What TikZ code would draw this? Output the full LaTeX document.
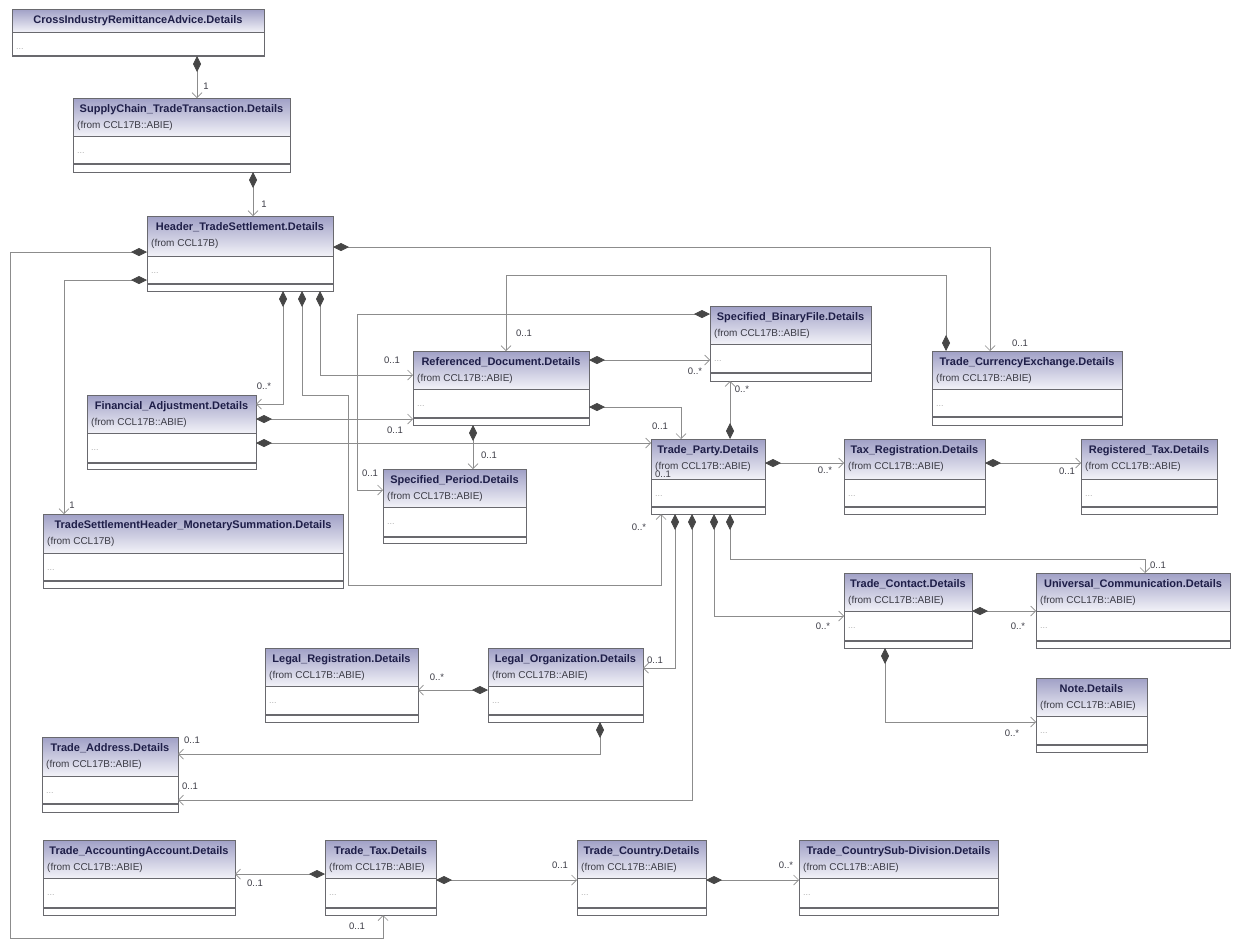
\documentclass[tikz,border=0pt]{standalone}
\usepackage{fontspec}
\setmainfont{Liberation Sans}
\usetikzlibrary{positioning}
\usetikzlibrary{arrows.meta}
\usetikzlibrary{fit}

\definecolor{hdtop}{RGB}{160,160,198}
\definecolor{hdbot}{RGB}{242,242,248}
\definecolor{boxcol}{RGB}{105,105,110}
\definecolor{lnk}{RGB}{140,140,140}
\definecolor{dmd}{RGB}{70,70,70}
\definecolor{titlecol}{RGB}{30,30,72}
\definecolor{subcol}{RGB}{60,60,70}

\newcommand{\classbox}[9]{%
  \shade[top color=hdtop, bottom color=hdbot] (#2,#3) rectangle (#4,#5);
  \draw[cline] (#2,#3) rectangle (#4,#7);
  \draw[cline] (#2,#5) -- (#4,#5);
  \draw[cline, line width=1.1pt] (#2,#6) -- (#4,#6);
  \node[fit={(#2,#3) (#4,#7)}, inner sep=0pt, outer sep=0pt] (#1) {};
  \node[ctitle] (#1-t) at ({(#2+#4)/2},#3+14) {#8};
  \if\relax\detokenize{#9}\relax\else
  \node[csub] (#1-s) at (#2+4,#3+30) {#9};
  \fi
  \node[cdots] (#1-a) at (#2+4,#5+17) {...};
}

\begin{document}
\begin{tikzpicture}[x=1pt, y=-1pt,
  cline/.style={draw=boxcol, line width=0.6pt},
  ctitle/.style={anchor=base, inner sep=0pt, text=titlecol, font=\fontsize{11}{12}\selectfont\bfseries},
  csub/.style={anchor=base west, inner sep=0pt, text=subcol, font=\fontsize{10}{12}\selectfont},
  cdots/.style={anchor=base west, inner sep=0pt, text=gray!60, font=\fontsize{9}{10}\selectfont},
  comp/.style={draw=lnk, line width=0.7pt, arrows={Diamond[length=16pt,width=8pt,color=dmd]-Straight Barb[length=5pt,width=10pt]}},
  mult/.style={inner sep=0pt, text=subcol, font=\fontsize{9.5}{11}\selectfont}
]

\fill[white] (0,0) rectangle (1234,940);
\useasboundingbox (0,0) rectangle (1234,940);


\begin{scope}

\classbox{cira}{12}{9}{264}{32}{56}{56}{CrossIndustryRemittanceAdvice.Details}{}
\classbox{scta}{73}{98}{290}{136}{164}{172}{SupplyChain\_TradeTransaction.Details}{(from CCL17B::ABIE)}
\classbox{hts}{147}{216}{333}{256}{284}{291}{Header\_TradeSettlement.Details}{(from CCL17B)}
\classbox{fa}{87}{395}{256}{433}{463}{469}{Financial\_Adjustment.Details}{(from CCL17B::ABIE)}
\classbox{tsms}{43}{514}{343}{553}{581}{588}{TradeSettlementHeader\_MonetarySummation.Details}{(from CCL17B)}
\classbox{rd}{413}{351}{589}{389}{418}{425}{Referenced\_Document.Details}{(from CCL17B::ABIE)}
\classbox{bf}{710}{306}{871}{344}{373}{381}{Specified\_BinaryFile.Details}{(from CCL17B::ABIE)}
\classbox{sp}{383}{469}{526}{507}{537}{543}{Specified\_Period.Details}{(from CCL17B::ABIE)}
\classbox{tp}{651}{439}{765}{479}{507}{514}{Trade\_Party.Details}{(from CCL17B::ABIE)}
\classbox{tce}{932}{351}{1122}{389}{417}{425}{Trade\_CurrencyExchange.Details}{(from CCL17B::ABIE)}
\classbox{tr}{844}{439}{985}{479}{507}{514}{Tax\_Registration.Details}{(from CCL17B::ABIE)}
\classbox{rt}{1081}{439}{1217}{479}{507}{514}{Registered\_Tax.Details}{(from CCL17B::ABIE)}
\classbox{tc}{844}{573}{972}{611}{641}{648}{Trade\_Contact.Details}{(from CCL17B::ABIE)}
\classbox{uc}{1036}{573}{1230}{611}{641}{648}{Universal\_Communication.Details}{(from CCL17B::ABIE)}
\classbox{nt}{1036}{678}{1147}{716}{745}{752}{Note.Details}{(from CCL17B::ABIE)}
\classbox{lr}{265}{648}{418}{686}{715}{722}{Legal\_Registration.Details}{(from CCL17B::ABIE)}
\classbox{lo}{488}{648}{643}{686}{715}{722}{Legal\_Organization.Details}{(from CCL17B::ABIE)}
\classbox{ta}{42}{737}{178}{776}{804}{812}{Trade\_Address.Details}{(from CCL17B::ABIE)}
\classbox{taa}{43}{840}{235}{878}{908}{915}{Trade\_AccountingAccount.Details}{(from CCL17B::ABIE)}
\classbox{tt}{325}{840}{436}{878}{908}{915}{Trade\_Tax.Details}{(from CCL17B::ABIE)}
\classbox{tco}{577}{840}{706}{878}{908}{915}{Trade\_Country.Details}{(from CCL17B::ABIE)}
\classbox{tcs}{799}{840}{998}{878}{908}{915}{Trade\_CountrySub-Division.Details}{(from CCL17B::ABIE)}

\end{scope}


{
\draw[comp] (cira.south -| 197,0) -- (scta.north -| 197,0);
\draw[comp] (scta.south -| 253,0) -- (hts.north -| 253,0);

\draw[comp] (hts.west |- 0,252) -| (10,938) -| (tt.south -| 383,0);
\draw[comp] (hts.west |- 0,280) -| (tsms.north -| 64,0);
\draw[comp] (hts.east |- 0,247) -| (tce.north -| 990,0);
\draw[comp] (hts.south -| 283,0) |- (fa.east |- 0,404);
\draw[comp] (hts.south -| 302,0) |- (348,395) |- (661,585) -- (tp.south -| 661,0);
\draw[comp] (hts.south -| 320,0) |- (rd.west |- 0,375);

\draw[comp] (fa.east |- 0,419) -- (rd.west |- 0,419);
\draw[comp] (fa.east |- 0,443) -- (tp.west |- 0,443);

\draw[comp] (rd.east |- 0,360) -- (bf.west |- 0,360);
\draw[comp] (rd.east |- 0,407) -| (tp.north -| 681,0);
\draw[comp] (rd.south -| 473,0) -- (sp.north -| 473,0);
\draw[comp] (bf.west |- 0,314) -| (357,490) -- (sp.west |- 0,490);
\draw[comp] (tce.north -| 946,0) |- (506,275) -- (rd.north -| 506,0);

\draw[comp] (tp.north -| 730,0) -- (bf.south -| 730,0);
\draw[comp] (tp.east |- 0,463) -- (tr.west |- 0,463);
\draw[comp] (tr.east |- 0,463) -- (rt.west |- 0,463);
\draw[comp] (tp.south -| 730,0) |- (1145,559) -- (uc.north -| 1145,0);
\draw[comp] (tp.south -| 714,0) |- (tc.west |- 0,616);
\draw[comp] (tp.south -| 692,0) |- (ta.east |- 0,800);
\draw[comp] (tp.south -| 675,0) |- (lo.east |- 0,668);

\draw[comp] (tc.east |- 0,611) -- (uc.west |- 0,611);
\draw[comp] (tc.south -| 885,0) |- (nt.west |- 0,722);
\draw[comp] (lo.west |- 0,690) -- (lr.east |- 0,690);
\draw[comp] (lo.south -| 600,0) |- (ta.east |- 0,754);

\draw[comp] (tt.west |- 0,874) -- (taa.east |- 0,874);
\draw[comp] (tt.east |- 0,880) -- (tco.west |- 0,880);
\draw[comp] (tco.east |- 0,880) -- (tcs.west |- 0,880);
}

{
\node[mult] (m1) at (206,86) {1};
\node[mult] (m2) at (264,204) {1};
\node[mult] (m3) at (357,926) {0..1};
\node[mult] (m4) at (72,505) {1};
\node[mult] (m5) at (1020,343) {0..1};
\node[mult] (m6) at (264,386) {0..*};
\node[mult] (m7) at (639,527) {0..*};
\node[mult] (m8) at (392,360) {0..1};
\node[mult] (m9) at (395,430) {0..1};
\node[mult] (m10) at (663,474) {0..1};
\node[mult] (m11) at (695,371) {0..*};
\node[mult] (m12) at (660,426) {0..1};
\node[mult] (m13) at (489,455) {0..1};
\node[mult] (m14) at (370,473) {0..1};
\node[mult] (m15) at (524,333) {0..1};
\node[mult] (m16) at (742,389) {0..*};
\node[mult] (m17) at (825,470) {0..*};
\node[mult] (m18) at (1067,471) {0..1};
\node[mult] (m19) at (1158,565) {0..1};
\node[mult] (m20) at (823,626) {0..*};
\node[mult] (m21) at (190,786) {0..1};
\node[mult] (m22) at (655,660) {0..1};
\node[mult] (m23) at (1018,626) {0..*};
\node[mult] (m24) at (1012,733) {0..*};
\node[mult] (m25) at (437,677) {0..*};
\node[mult] (m26) at (192,740) {0..1};
\node[mult] (m27) at (255,883) {0..1};
\node[mult] (m28) at (560,865) {0..1};
\node[mult] (m29) at (786,865) {0..*};
}

\end{tikzpicture}
\end{document}
